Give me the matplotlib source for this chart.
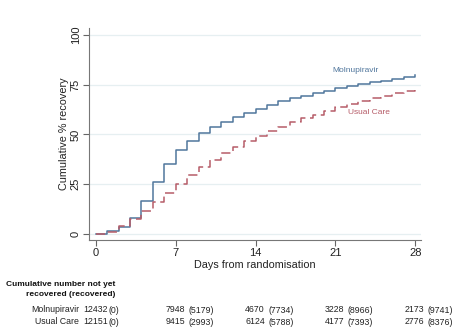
import matplotlib
matplotlib.use("Agg")
import matplotlib.pyplot as plt
from matplotlib import transforms

plt.rcParams['font.family'] = ['Liberation Sans', 'DejaVu Sans']

days = list(range(0, 29))
molnupiravir = [0, 1.5, 3.3, 8.3, 16.8, 26.3, 35, 42, 46.8, 50.8, 53.7, 56.5, 59, 61,
                63, 65, 66.6, 68.1, 69.5, 70.8, 72.1, 73.3, 74.3, 75.3, 76.2, 77, 77.8,
                78.8, 79.8]
usual_care = [0, 1.2, 4, 7.3, 11.7, 16.2, 20.7, 25.2, 29.5, 33.7, 37.3, 40.8, 43.7,
              46.5, 49.2, 51.7, 54, 56.2, 58.2, 60, 61.8, 63.7, 65.3, 66.8, 68.3, 69.5,
              70.7, 71.8, 72.8]

x_ticks = [0, 7, 14, 21, 28]
y_ticks = [0, 25, 50, 75, 100]
risk_days = [0, 7, 14, 21, 28]
mol_at_risk = [12432, 7948, 4670, 3228, 2173]
mol_recovered = [0, 5179, 7734, 8966, 9741]
uc_at_risk = [12151, 9415, 6124, 4177, 2776]
uc_recovered = [0, 2993, 5788, 7393, 8376]

blue = '#50769c'
red = '#b65c68'

W, H = 456, 331
fig = plt.figure(figsize=(W / 100, H / 100), dpi=100)
ax = fig.add_axes([89 / W, 1 - 240 / H, 332 / W, (240 - 28) / H])

ax.plot(days, molnupiravir, drawstyle='steps-post', color=blue, lw=1.1)
ax.plot(days, usual_care, drawstyle='steps-post', color=red, lw=1.1,
        dashes=(6, 3))

ax.set_xlim(-0.6, 28.5)
ax.set_ylim(-3, 103.5)
ax.set_xticks(x_ticks)
ax.set_yticks(y_ticks)
ax.set_yticklabels([str(v) for v in y_ticks], rotation=90, va='center')
ax.tick_params(axis='both', labelsize=8, labelcolor='#222222', length=4, width=0.8,
               pad=2, color='#666666')
for v in y_ticks:
    ax.axhline(v, color='#e6eff1', lw=0.9, zorder=0)
ax.spines['top'].set_visible(False)
ax.spines['right'].set_visible(False)
ax.spines['left'].set_color('#777777')
ax.spines['bottom'].set_color('#777777')
ax.set_xlabel('Days from randomisation', fontsize=7.8, labelpad=1, color='#222222')
ax.set_ylabel('Cumulative % recovery', fontsize=7.8, labelpad=1.5, color='#222222')

ax.text(20.7, 82, 'Molnupiravir', color=blue, fontsize=6, ha='left', va='center')
ax.text(22.1, 60.8, 'Usual Care', color=red, fontsize=6, ha='left', va='center')

# number at risk table
fig.text(115 / W, 1 - 284 / H, 'Cumulative number not yet', fontsize=6,
         fontweight='bold', ha='right', va='center', color='#111111')
fig.text(115 / W, 1 - 294.5 / H, 'recovered (recovered)', fontsize=6,
         fontweight='bold', ha='right', va='center', color='#111111')

blend = transforms.blended_transform_factory(ax.transData, fig.transFigure)
t_num = transforms.offset_copy(blend, fig=fig, x=-0.5, y=0.5, units='dots')
t_par = transforms.offset_copy(blend, fig=fig, x=12.5, y=-0.5, units='dots')
rows = [('Molnupiravir', mol_at_risk, mol_recovered, 309.7),
        ('Usual Care', uc_at_risk, uc_recovered, 321.9)]
for name, atrisk, rec, ypx in rows:
    yf = 1 - ypx / H
    fig.text(79 / W, yf, name, fontsize=6.3, ha='right', va='center', color='#222222')
    for d, n, r in zip(risk_days, atrisk, rec):
        fig.text(d, yf, str(n), transform=t_num, fontsize=6.3, ha='center',
                 va='center', color='#222222')
        fig.text(d, yf, f'({r})', transform=t_par, fontsize=6.3, ha='left',
                 va='center', color='#222222')

fig.savefig('out.png', dpi=100)
